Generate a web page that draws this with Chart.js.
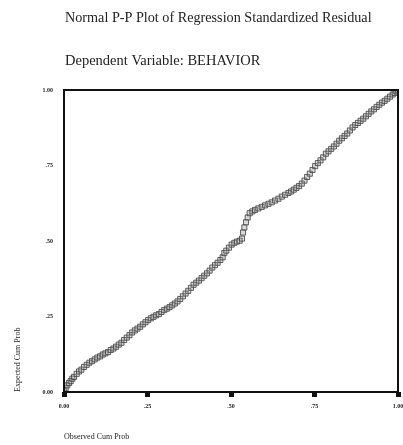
<!DOCTYPE html>
<html>
<head>
<meta charset="utf-8">
<script src="https://cdn.jsdelivr.net/npm/chart.js@4/dist/chart.umd.min.js"></script>
<style>
  html, body { margin: 0; padding: 0; background: #fff; }
  #wrap { width: 403px; height: 445px; }
</style>
</head>
<body>
<div id="wrap"><canvas id="c" width="403" height="445"></canvas></div>
<script>
const titleText = 'Normal P-P Plot of Regression Standardized Residual';
const subtitleText = 'Dependent Variable: BEHAVIOR';

// observed cum prob (x) and expected cum prob (y)
const observed = [0.000, 0.005, 0.010, 0.015, 0.020, 0.025, 0.030, 0.038, 0.045, 0.052, 0.060, 0.068, 0.076, 0.084,
  0.092, 0.100, 0.108, 0.116, 0.124, 0.132, 0.140, 0.148, 0.156, 0.164, 0.172, 0.180, 0.188, 0.196, 0.204,
  0.212, 0.220, 0.228, 0.236, 0.244, 0.252, 0.260, 0.268, 0.276, 0.284, 0.292, 0.300, 0.308, 0.316, 0.324,
  0.332, 0.340, 0.348, 0.356, 0.364, 0.372, 0.380, 0.388, 0.396, 0.404, 0.412, 0.420, 0.428, 0.436, 0.444,
  0.452, 0.460, 0.468, 0.475, 0.480, 0.486, 0.494, 0.502, 0.510, 0.518, 0.526, 0.533, 0.536, 0.540, 0.545,
  0.550, 0.556, 0.564, 0.572, 0.582, 0.592, 0.602, 0.612, 0.622, 0.632, 0.642, 0.652, 0.662, 0.672, 0.680,
  0.688, 0.696, 0.704, 0.712, 0.720, 0.728, 0.736, 0.744, 0.752, 0.760, 0.768, 0.776, 0.784, 0.792, 0.800,
  0.808, 0.816, 0.824, 0.832, 0.840, 0.848, 0.856, 0.864, 0.872, 0.880, 0.888, 0.896, 0.904, 0.912, 0.920,
  0.928, 0.936, 0.944, 0.952, 0.960, 0.968, 0.976, 0.984, 0.990, 0.995, 1.000];
const expected = [0.004, 0.012, 0.022, 0.030, 0.036, 0.044, 0.050, 0.060, 0.068, 0.074, 0.083, 0.090, 0.097, 0.102,
  0.108, 0.114, 0.118, 0.124, 0.128, 0.132, 0.139, 0.144, 0.150, 0.157, 0.163, 0.172, 0.180, 0.188, 0.197,
  0.204, 0.210, 0.216, 0.224, 0.231, 0.238, 0.244, 0.249, 0.254, 0.258, 0.265, 0.271, 0.276, 0.281, 0.287,
  0.293, 0.300, 0.308, 0.317, 0.326, 0.335, 0.345, 0.355, 0.362, 0.369, 0.377, 0.385, 0.393, 0.402, 0.412,
  0.420, 0.428, 0.437, 0.446, 0.460, 0.468, 0.478, 0.488, 0.494, 0.498, 0.501, 0.508, 0.528, 0.545, 0.562,
  0.578, 0.592, 0.598, 0.603, 0.608, 0.613, 0.618, 0.623, 0.628, 0.634, 0.640, 0.647, 0.653, 0.659, 0.664,
  0.670, 0.676, 0.682, 0.690, 0.700, 0.712, 0.723, 0.735, 0.748, 0.758, 0.767, 0.777, 0.789, 0.797, 0.805,
  0.813, 0.822, 0.832, 0.840, 0.848, 0.856, 0.866, 0.876, 0.884, 0.891, 0.898, 0.905, 0.913, 0.921, 0.929,
  0.936, 0.944, 0.951, 0.958, 0.964, 0.971, 0.978, 0.985, 0.990, 0.995, 0.999];

const tickVals = [0, 0.25, 0.5, 0.75, 1];
const tickLabels = ['0.00', '.25', '.50', '.75', '1.00'];

const serif = 'Liberation Serif';

const headerPlugin = {
  id: 'header',
  afterDraw(chart) {
    const ctx = chart.ctx;
    ctx.save();
    ctx.fillStyle = '#222';
    ctx.textBaseline = 'middle';
    ctx.textAlign = 'left';
    ctx.font = '14.2px "' + serif + '"';
    ctx.fillText(titleText, 65, 18);
    ctx.font = '14.5px "' + serif + '"';
    ctx.fillText(subtitleText, 65, 61);
    // frame round the plot
    const a = chart.chartArea;
    ctx.strokeStyle = '#111';
    ctx.lineWidth = 2;
    ctx.strokeRect(a.left, a.top, a.right - a.left, a.bottom - a.top);
    ctx.restore();
  }
};

new Chart(document.getElementById('c'), {
  type: 'scatter',
  data: {
    datasets: [{
      data: observed.map((x, i) => ({ x: x, y: expected[i] })),
      pointStyle: 'rect',
      pointRadius: 3.6,
      borderWidth: 1,
      borderColor: 'rgba(70,70,70,0.85)',
      backgroundColor: 'rgba(150,150,150,0.35)'
    }]
  },
  options: {
    responsive: false,
    animation: false,
    layout: { padding: { top: 90, right: 4, left: 0, bottom: 0 } },
    plugins: { legend: { display: false }, tooltip: { enabled: false } },
    scales: {
      x: {
        type: 'linear', min: 0, max: 1,
        afterBuildTicks: s => { s.ticks = tickVals.map(v => ({ value: v })); },
        afterFit: s => { s.height = 53; s.paddingLeft = 0; s.paddingRight = 0; },
        border: { display: false },
        grid: { drawOnChartArea: false, tickLength: 5, tickWidth: 5, tickColor: '#111' },
        ticks: {
          padding: 6, maxRotation: 0, color: '#222',
          font: { family: serif, size: 6, weight: 'bold' },
          callback: (v, i) => tickLabels[i]
        },
        title: {
          display: true, text: 'Observed Cum Prob', align: 'start', color: '#222',
          font: { family: serif, size: 8 }, padding: { top: 0, bottom: 3 }
        }
      },
      y: {
        type: 'linear', min: 0, max: 1,
        afterBuildTicks: s => { s.ticks = tickVals.map(v => ({ value: v })); },
        afterFit: s => { s.width = 64; },
        border: { display: false },
        grid: { display: false, drawTicks: false, tickLength: 0 },
        ticks: {
          padding: 11, color: '#222',
          font: { family: serif, size: 6, weight: 'bold' },
          callback: (v, i) => tickLabels[i]
        },
        title: {
          display: true, text: 'Expected Cum Prob', align: 'start', color: '#222',
          font: { family: serif, size: 8 }, padding: { top: 13, bottom: 0 }
        }
      }
    }
  },
  plugins: [headerPlugin]
});
</script>
</body>
</html>
